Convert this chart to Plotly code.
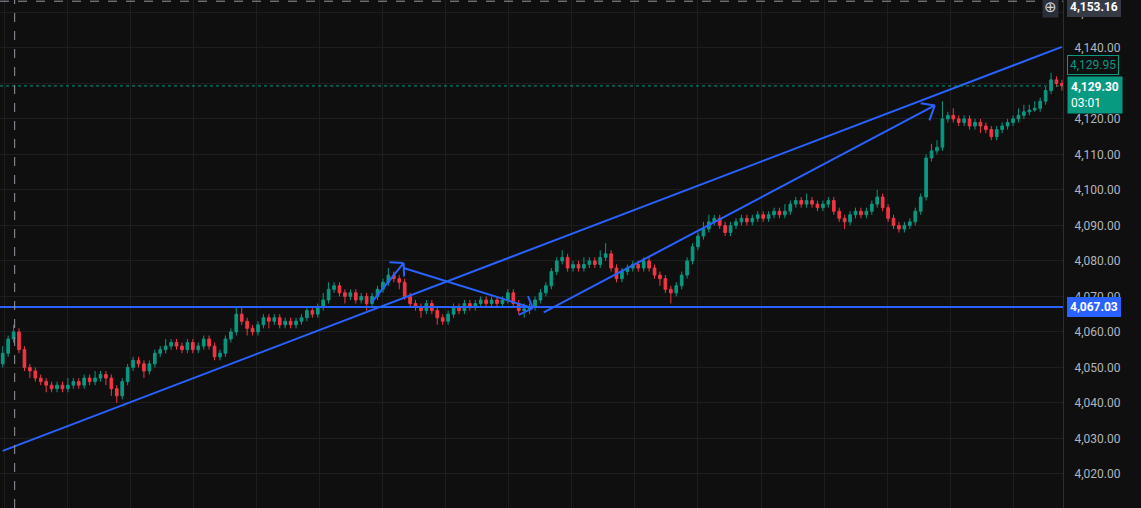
import plotly.graph_objects as go

opens = [4051,4054,4058,4060,4055,4050,4049,4047,4046,4045,4044,4045,4044,4045,4046,4045,4047,4046,4047,4048,
4047,4044,4042,4046,4050,4052,4051,4049,4051,4054,4055,4056,4057,4056,4055,4057,4055,4056,4058,4056,
4053,4054,4058,4060,4065,4063,4061,4060,4062,4064,4063,4064,4062,4063,4062,4063,4064,4066,4065,4067,
4069,4072,4073,4071,4070,4071,4069,4070,4068,4070,4072,4074,4076,4075,4074,4070,4068,4067,4066,4068,
4066,4064,4063,4065,4067,4066,4068,4067,4068,4069,4068,4069,4068,4069,4071,4068,4066,4066.5,4067,4069,
4071,4073,4077,4080,4081,4078,4079,4078,4079,4080,4079,4081,4082,4078,4075,4077,4078,4079,4078,4080,
4078,4076,4075,4072,4071,4073,4076,4080,4084,4087,4089,4091,4092,4090,4088,4090,4091,4092,4091,4092,
4093,4092,4093,4094,4093,4094,4096,4097,4096,4097,4096,4095,4096,4097,4094,4092,4091,4093,4094,4093,
4094,4096,4098,4095,4092,4090,4089,4090,4091,4094,4098,4109,4111,4112,4120,4121,4120,4119,4120,4118,
4119,4118,4117,4115,4117,4118,4119,4120,4121,4122,4122.5,4123,4125,4128,4131,4130]
closes = [4054,4058,4060,4055,4050,4049,4047,4046,4045,4044,4045,4044,4045,4046,4045,4047,4046,4047,4048,4047,
4044,4042,4046,4050,4052,4051,4049,4051,4054,4055,4056,4057,4056,4055,4057,4055,4056,4058,4056,4053,
4054,4058,4060,4065,4063,4061,4060,4062,4064,4063,4064,4062,4063,4062,4063,4064,4066,4065,4067,4069,
4072,4073,4071,4070,4071,4069,4070,4068,4070,4072,4074,4076,4075,4074,4070,4068,4067,4066,4068,4066,
4064,4063,4065,4067,4066,4068,4067,4068,4069,4068,4069,4068,4069,4071,4068,4066,4066.5,4067,4069,4071,
4073,4077,4080,4081,4078,4079,4078,4079,4080,4079,4081,4082,4078,4075,4077,4078,4079,4078,4080,4078,
4076,4075,4072,4071,4073,4076,4080,4084,4087,4089,4091,4092,4090,4088,4090,4091,4092,4091,4092,4093,
4092,4093,4094,4093,4094,4096,4097,4096,4097,4096,4095,4096,4097,4094,4092,4091,4093,4094,4093,4094,
4096,4098,4095,4092,4090,4089,4090,4091,4094,4098,4109,4111,4112,4120,4121,4120,4119,4120,4118,4119,
4118,4117,4115,4117,4118,4119,4120,4121,4122,4122.5,4123,4125,4128,4131,4130,4129.3]
highs = [4056,4059,4062,4061,4056,4051,4050,4048,4047,4046,4046,4046,4047,4047,4047,4048,4048,4049,4049,4049,
4048,4045,4047,4051,4053,4053,4052,4052,4055,4056,4058,4058,4058,4057,4058,4058,4057,4059,4059,4057,
4055,4059,4061,4067,4067,4064,4062,4063,4065,4065,4065,4065,4064,4064,4064,4065,4067,4067,4068,4071,
4074,4074,4074,4072,4072,4072,4071,4071,4071,4073,4075,4078,4077,4076,4075,4071,4069,4068,4069,4069,
4067,4065,4066,4068,4068,4069,4069,4069,4070,4070,4070,4070,4070,4072,4072,4069,4068,4068,4070,4072,
4074,4078,4081,4083,4082,4080,4080,4081,4081,4081,4083,4085,4083,4079,4078,4079,4080,4080,4081,4081,
4079,4077,4076,4073,4074,4077,4081,4085,4088,4091,4093,4093,4093,4091,4091,4092,4093,4093,4093,4094,
4094,4094,4095,4095,4096,4097,4098,4098,4099,4098,4097,4097,4098,4098,4095,4093,4094,4095,4095,4095,
4097,4100,4099,4096,4093,4091,4091,4092,4095,4099,4110,4113,4114,4125,4122,4123,4121,4121,4121,4120,
4120,4119,4118,4118,4119,4120,4121,4123,4124,4124,4125,4126,4129,4133,4132,4131]
lows = [4050,4053,4057,4054,4049,4047,4046,4045,4043,4043,4043,4043,4043,4044,4044,4044,4045,4045,4046,4045,
4042,4040,4041,4045,4049,4050,4047,4048,4050,4053,4054,4055,4055,4054,4054,4054,4054,4055,4055,4052,
4052,4053,4057,4059,4062,4059,4059,4059,4061,4061,4062,4061,4061,4061,4061,4062,4063,4064,4064,4066,
4068,4071,4070,4068,4069,4068,4068,4066,4067,4069,4071,4073,4074,4072,4069,4067,4066,4064,4065,4065,
4062,4062,4062,4064,4065,4065,4066,4066,4067,4067,4067,4067,4067,4068,4067,4065,4064,4065,4066,4068,
4070,4072,4076,4079,4077,4077,4077,4077,4078,4078,4078,4080,4077,4074,4074,4076,4077,4077,4077,4077,
4075,4073,4071,4068,4070,4072,4075,4079,4083,4086,4088,4090,4089,4087,4087,4089,4090,4090,4090,4091,
4091,4091,4092,4092,4092,4093,4095,4095,4095,4095,4094,4094,4095,4093,4091,4089,4090,4092,4092,4092,
4093,4095,4094,4091,4089,4088,4088,4089,4090,4093,4097,4108,4110,4111,4119,4119,4118,4118,4117,4117,
4116,4116,4114,4114,4116,4117,4118,4119,4120,4121,4122,4122,4124,4127,4129,4128]
idx = list(range(len(closes)))

# drawn objects (data coords: candle index, price)
trend_x = [0, 195]
trend_y = [4026.5, 4140.3]
support_level = 4067.03
arrows = [  # (x0, y0, x1, y1)
    (68, 4068.5, 73.8, 4079.4),
    (73.8, 4078.0, 97.6, 4066.7),
    (99.6, 4065.5, 171.6, 4123.8),
]
arrow_heads = [  # two barb endpoints per arrow
    ((71.2, 4079.6), (73.9, 4075.6)),
    ((96.7, 4070.1), (95.0, 4064.8)),
    ((169.0, 4124.4), (170.6, 4119.6)),
]
last_price = 4129.30
ask_price = 4129.95
cross_price = 4153.16
ytick_vals = list(range(4010, 4160, 10))

fig = go.Figure(go.Candlestick(
    x=idx, open=opens, high=highs, low=lows, close=closes,
    increasing=dict(line=dict(color="#089981", width=1), fillcolor="#089981"),
    decreasing=dict(line=dict(color="#f23645", width=1), fillcolor="#f23645"),
    whiskerwidth=0, showlegend=False, hoverinfo="skip"))

blue = "#2962ff"
shapes = [
    dict(type="line", x0=trend_x[0], y0=trend_y[0], x1=trend_x[1], y1=trend_y[1], line=dict(color=blue, width=2)),
    dict(type="line", xref="paper", x0=0, x1=1, y0=support_level, y1=support_level, line=dict(color=blue, width=2)),
    dict(type="line", xref="paper", x0=0, x1=1, y0=last_price, y1=last_price, line=dict(color="#089981", width=1, dash="dot")),
    dict(type="line", xref="paper", x0=0, x1=1, y0=cross_price, y1=cross_price, line=dict(color="#9598a1", width=1, dash="dash")),
    dict(type="line", x0=2.2, x1=2.2, yref="paper", y0=0, y1=1, line=dict(color="#9598a1", width=1, dash="dash")),
]
for (x0, y0, x1, y1), (b1, b2) in zip(arrows, arrow_heads):
    shapes.append(dict(type="line", x0=x0, y0=y0, x1=x1, y1=y1, line=dict(color=blue, width=2)))
    shapes.append(dict(type="line", x0=b1[0], y0=b1[1], x1=x1, y1=y1, line=dict(color=blue, width=2)))
    shapes.append(dict(type="line", x0=b2[0], y0=b2[1], x1=x1, y1=y1, line=dict(color=blue, width=2)))

def tag(y, text, bg, fg, border=None, **kw):
    d = dict(xref="paper", x=1.0, xanchor="left", xshift=4, y=y, yanchor="middle", text=text,
             showarrow=False, bgcolor=bg, bordercolor=border or bg, borderwidth=1, borderpad=2,
             font=dict(color=fg, size=12, family="Roboto"), align="left")
    d.update(kw)
    return d

annotations = [
    tag(ask_price, f"{ask_price:,.2f}", "#0f0f0f", "#089981", "#089981", yanchor="bottom", yshift=9),
    dict(xref="paper", x=1.0, xanchor="left", xshift=4, y=last_price, yanchor="top", yshift=10,
         text=f"<b>{last_price:,.2f}</b><br>03:01", showarrow=False, bgcolor="#089981", borderpad=3,
         font=dict(color="#ffffff", size=12, family="Roboto"), align="left"),
    tag(support_level, f"<b>{support_level:,.2f}</b>", "#2962ff", "#ffffff"),
    tag(cross_price, f"<b>{cross_price:,.2f}</b>", "#363a45", "#ffffff", yanchor="top", yshift=4),
    dict(xref="paper", x=1.0, xanchor="right", xshift=-4, y=cross_price, yanchor="top", yshift=7,
         text="⊕", showarrow=False, font=dict(color="#d1d4dc", size=15), bgcolor="#2a2e39"),
]

fig.update_layout(
    width=1141, height=508, margin=dict(l=0, r=78, t=0, b=0),
    paper_bgcolor="#0f0f0f", plot_bgcolor="#0f0f0f",
    shapes=shapes, annotations=annotations,
    xaxis=dict(range=[-0.5, 195.2], rangeslider=dict(visible=False), showticklabels=False,
               showgrid=True, gridcolor="#1e1e1e", tick0=11.9, dtick=11.61, zeroline=False),
    yaxis=dict(side="right", range=[4010.4, 4153.5], tickvals=ytick_vals, tickformat=",.2f",
               gridcolor="#1e1e1e", zeroline=False, ticks="", ticklabelstandoff=8,
               tickfont=dict(color="#b2b5be", size=12, family="Roboto"),
               showline=True, linecolor="#2a2e39"),
)
fig.write_html("out.html", config={"displayModeBar": False},
               post_script="document.body.style.margin='0';document.body.style.background='#0f0f0f';")
